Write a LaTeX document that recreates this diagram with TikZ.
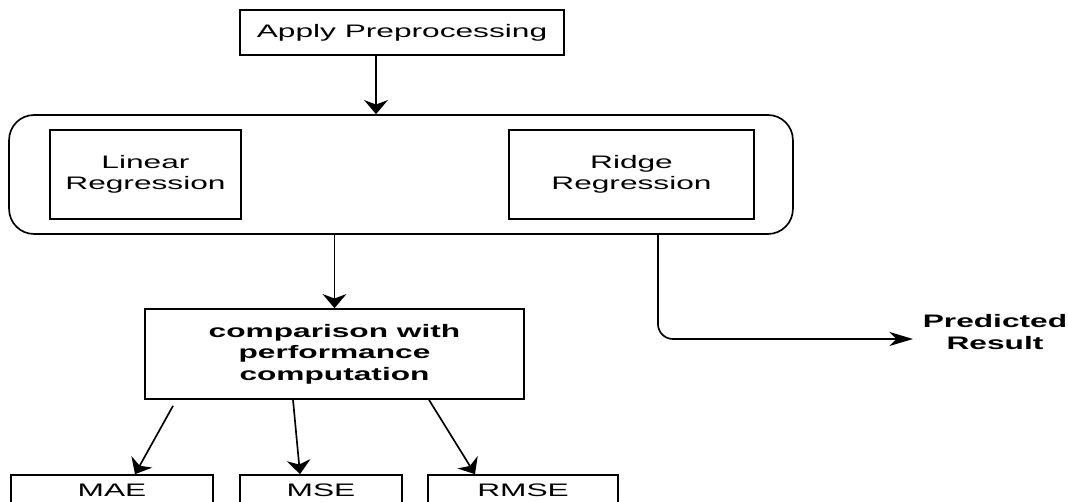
\documentclass[tikz,border=0pt]{standalone}
\usepackage{fontspec}
\setmainfont{Liberation Sans}[FakeStretch=1.75]
\usetikzlibrary{arrows.meta,positioning}

\begin{document}
\begin{tikzpicture}[x=0.02cm,y=-0.02cm,line width=0.95pt,
    varr/.style={-{Stealth[length=8pt,width=13.5pt,inset=2.5pt]}},
    harr/.style={-{Stealth[length=13.5pt,width=8pt,inset=4pt]}},
    box/.style={draw,rectangle,inner sep=0pt,align=center,font=\fontsize{10.3}{12.3}\selectfont},
    boldbox/.style={box,font=\fontsize{10.3}{12.3}\selectfont\bfseries}]

            \useasboundingbox (0,0) rectangle (1068,502);
            \clip (0,0) rectangle (1068,502);

            \node[box, minimum width=6.48cm, minimum height=0.9cm]  (apply) at (402,32.5) {Apply Preprocessing};
            \node[draw, rounded corners=0.5cm, minimum width=15.68cm, minimum height=2.38cm]  (models) at (401,174.5) {};
            \node[box, minimum width=3.82cm, minimum height=1.78cm]  (linear) at (145.5,174.5) {Linear\\Regression};
            \node[box, minimum width=4.9cm, minimum height=1.78cm]  (ridge) at (631.5,174.5) {Ridge\\Regression};

            \node[boldbox, minimum width=7.58cm, minimum height=1.8cm]  (comp) at (334.5,354) {comparison with\\performance\\computation};

            \node[box, minimum width=4.04cm, minimum height=0.6cm]  (mae) at (112,490) {MAE};
            \node[box, minimum width=3.24cm, minimum height=0.6cm]  (mse) at (321,490) {MSE};
            \node[box, minimum width=3.8cm, minimum height=0.6cm]  (rmse) at (523,490) {RMSE};

            \node[boldbox, draw=none, anchor=west, inner xsep=0.18cm]  (pred) at (913,332) {Predicted\\Result};

            \draw[varr] ([xshift=-0.52cm]apply.south) -- ([xshift=-0.5cm]models.north);
            \draw[varr] (models.south -| comp.north) -- (comp.north);
            \draw[harr, rounded corners=0.3cm] ([xshift=5.14cm]models.south) |- ([yshift=-0.14cm]pred.west);

            \draw[varr] ([xshift=-3.23cm,yshift=-0.12cm]comp.south) -- ([xshift=0.46cm]mae.north);
            \draw[varr] ([xshift=-0.83cm]comp.south) -- ([xshift=-0.42cm]mse.north);
            \draw[varr] ([xshift=1.89cm]comp.south) -- ([xshift=-0.96cm]rmse.north);
        \end{tikzpicture}
\end{document}
